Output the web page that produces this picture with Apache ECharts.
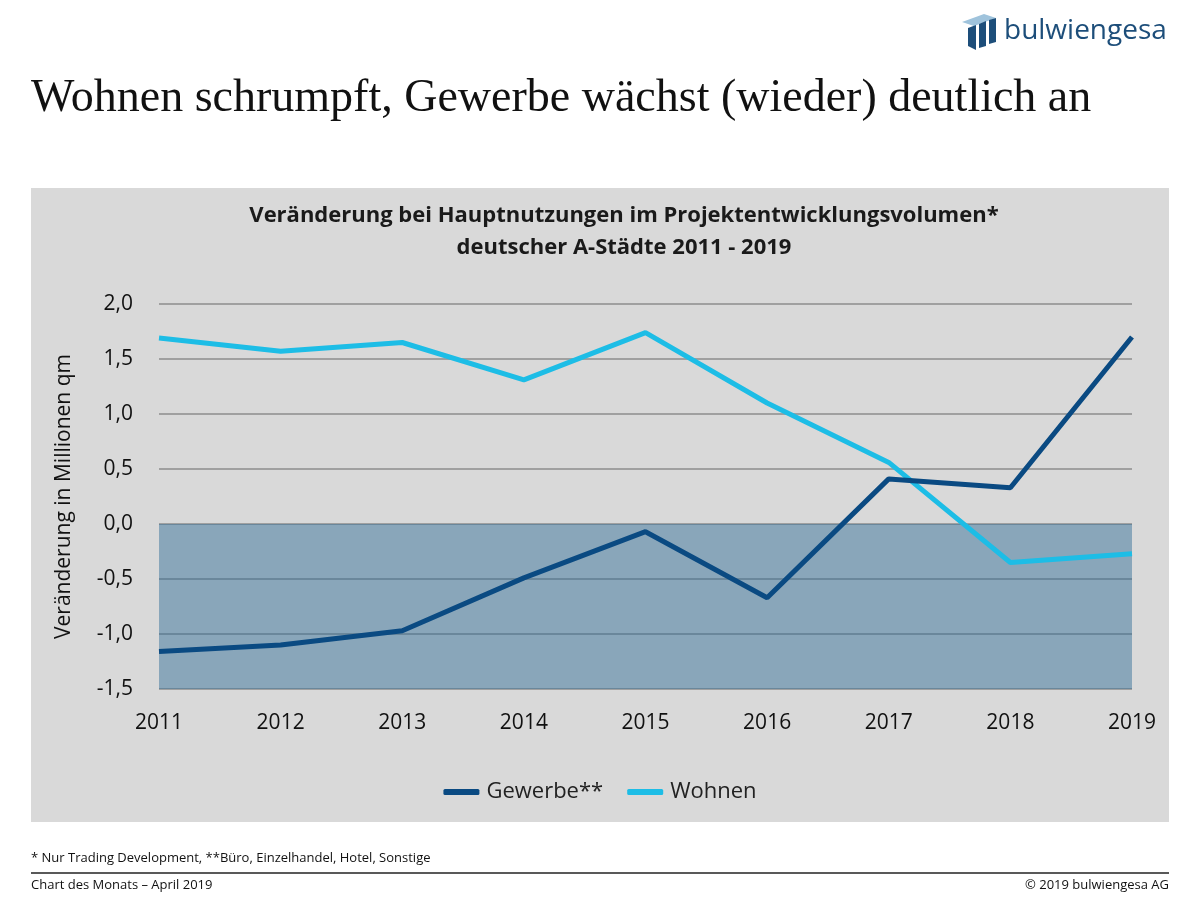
<!DOCTYPE html>
<html><head><meta charset="utf-8">
<script src="https://cdn.jsdelivr.net/npm/echarts@6/dist/echarts.min.js"></script>
<style>html,body{margin:0;padding:0;background:#fff}#c{width:1200px;height:900px}</style>
</head><body><div id="c"></div>
<script>
const years = ['2011','2012','2013','2014','2015','2016','2017','2018','2019'];
const gewerbe = [-1.16, -1.10, -0.97, -0.49, -0.07, -0.67, 0.41, 0.33, 1.70];
const wohnen = [1.69, 1.57, 1.65, 1.31, 1.74, 1.10, 0.56, -0.35, -0.27];
const yMin = -1.5, yMax = 2.0, yStep = 0.5;
const negBand = [yMin, 0];

const chart = echarts.init(document.getElementById('c'), null, {renderer:'canvas'});
const sans = "'Open Sans', 'Noto Sans', sans-serif";
const narrow = "13px 'Liberation Sans Narrow', 'Open Sans', sans-serif";
chart.setOption({
  backgroundColor: '#ffffff',
  animation: false,
  graphic: [
    {type:'rect', z:-10, shape:{x:31,y:188,width:1138,height:634}, style:{fill:'#d9d9d9'}},
    {type:'text', left:31, top:76, style:{text:'Wohnen schrumpft, Gewerbe wächst (wieder) deutlich an', font:"46px 'Liberation Serif', 'DejaVu Serif', serif", fill:'#111'}},
    {type:'text', x:624, y:216, style:{text:'Veränderung bei Hauptnutzungen im Projektentwicklungsvolumen*', font:"bold 22px "+sans, fill:'#1a1a1a', align:'center', verticalAlign:'middle'}},
    {type:'text', x:624, y:248, style:{text:'deutscher A-Städte 2011 - 2019', font:"bold 22px "+sans, fill:'#1a1a1a', align:'center', verticalAlign:'middle'}},
    // logo
    {type:'polygon', shape:{points:[[962,22],[984,14],[996,18],[974,26]]}, style:{fill:'#9fc3dc'}},
    {type:'polygon', shape:{points:[[968,28],[976,25],[976,50],[968,46]]}, style:{fill:'#1d4e7a'}},
    {type:'polygon', shape:{points:[[979,24],[986,21],[986,46],[979,48]]}, style:{fill:'#1d4e7a'}},
    {type:'polygon', shape:{points:[[989,20],[996,18],[996,42],[989,44]]}, style:{fill:'#1d4e7a'}},
    {type:'text', x:1004, y:31, style:{text:'bulwiengesa', font:"28px 'Open Sans', 'Noto Sans', sans-serif", fill:'#1d4e7a', verticalAlign:'middle'}},
    // footer
    {type:'text', left:31, top:852, style:{text:'* Nur Trading Development, **Büro, Einzelhandel, Hotel, Sonstige', font:narrow, fill:'#111'}},
    {type:'line', shape:{x1:31,y1:873,x2:1169,y2:873}, style:{stroke:'#222', lineWidth:1.5}},
    {type:'text', left:31, top:879, style:{text:'Chart des Monats – April 2019', font:narrow, fill:'#111'}},
    {type:'text', right:31, top:879, style:{text:'© 2019 bulwiengesa AG', font:narrow, fill:'#111'}}
  ],
  grid: {left:159, right:68, top:304, bottom:211, containLabel:false},
  legend: {
    top: 776, left: 'center',
    icon: 'roundRect',
    itemWidth: 36, itemHeight: 6, itemGap: 24,
    textStyle: {fontSize:22, color:'#222', fontFamily:sans, padding:[0,0,0,2]},
    data: ['Gewerbe**','Wohnen']
  },
  xAxis: {
    type:'category', data: years, boundaryGap:false,
    axisLine:{show:false}, axisTick:{show:false},
    axisLabel:{fontSize:21, color:'#111', fontFamily:sans, margin:24}
  },
  yAxis: {
    type:'value', min:yMin, max:yMax, interval:yStep, z:1,
    name:'Veränderung in Millionen qm', nameLocation:'middle', nameGap:84,
    nameTextStyle:{fontSize:21, color:'#111', fontFamily:sans},
    axisLine:{show:false}, axisTick:{show:false},
    axisLabel:{fontSize:21, color:'#111', fontFamily:sans, margin:26, formatter: v => v.toFixed(1).replace('.', ',')},
    splitLine:{lineStyle:{color:'rgba(80,80,80,0.55)', width:1.5}}
  },
  series: [
    {name:'band', type:'line', data:[], z:0, silent:true,
     markArea:{silent:true, itemStyle:{color:'rgba(39,104,148,0.45)'}, data:[[{yAxis:negBand[0]},{yAxis:negBand[1]}]]}},
    {name:'Gewerbe**', type:'line', data:gewerbe, z:3, symbol:'none', lineStyle:{width:5, color:'#0a4a82'}, itemStyle:{color:'#0a4a82'}},
    {name:'Wohnen', type:'line', data:wohnen, z:2, symbol:'none', lineStyle:{width:5, color:'#1dbde6'}, itemStyle:{color:'#1dbde6'}}
  ]
});
</script></body></html>
